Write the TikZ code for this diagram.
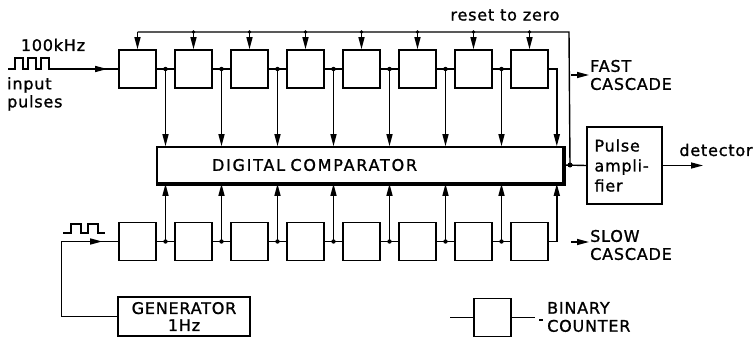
\documentclass[tikz,border=0pt]{standalone}
\usepackage{fontspec}
\setmainfont[LetterSpace=5,FakeBold=1.2]{DejaVu Sans}
\usetikzlibrary{arrows.meta,positioning,calc}

\begin{document}
\begin{tikzpicture}[x=1pt,y=-1pt,
    node distance=17.4pt,
    lbl/.style={inner sep=1pt,align=left,font=\fontsize{16}{18}\selectfont},
    counter/.style={draw,line width=1.6pt,minimum width=37pt,minimum height=38pt,inner sep=0pt},
    block/.style={draw,line width=1.6pt,inner sep=0pt,align=left,font=\fontsize{16}{20}\selectfont},
    wire/.style={line width=1.4pt},
    arrow/.style={wire,-{Triangle[length=12pt,width=6pt]}}
  ]
    \useasboundingbox (0,0) rectangle (753,337);
    % counters
    \node[counter] (f1) at (137.5,69) {};
    \node[counter] (s1) at (137.5,241.5) {};
    \foreach \i [count=\j from 2] in {1,...,7} {
      \node[counter,right=of f\i] (f\j) {};
      \node[counter,right=of s\i] (s\j) {};
    }
    \node[block,text width=406pt,minimum height=36pt] (comp) at (360,165) {\hspace*{55pt}\addfontfeature{LetterSpace=11}DIGITAL COMPARATOR};
    \draw[line width=3.5pt] (comp.south west) -- (comp.south east) -- (comp.north east);
    \node[block,text width=60pt,inner xsep=7.5pt,minimum height=77pt] (amp) at (624.5,165.5) {Pulse\\ampli-\\fier};
    \node[block,align=center,minimum width=132pt,minimum height=39pt,font=\fontsize{16}{17}\selectfont] (gen) at (184,316.5) {GENERATOR\\1Hz};
    \node[counter] (leg) at (492.5,317.5) {};
    % texts
    \node[lbl] (khz) at (53,45) {100kHz};
    \node[lbl,anchor=north west] (inlbl) at (6,76) {input\\pulses};
    \node[lbl] (reset) at (505,15) {reset to zero};
    \node[lbl,anchor=west] (fastlbl) at (589,75) {FAST\\CASCADE};
    \node[lbl,anchor=west] (slowlbl) at (589,245) {SLOW\\CASCADE};
    \node[lbl] (detlbl) at (716,150) {detector};
    \node[lbl,anchor=west] (leglbl) at (546,317) {BINARY\\COUNTER};
    \coordinate (fin) at (58,69);
    \coordinate (out) at (570,165);
    \coordinate (rtop) at (569,32);
    \coordinate (det) at (703,165.5);
    \coordinate (fastarr) at (571,75);
    \coordinate (slowarr) at (571,242);
    % pulse trains
    \draw[wire] (8,69) -- (15,69) |- (23,58) |- (28,69) |- (36,58) |- (41,69) |- (49,58) |- (fin);
    \draw[wire] (63,233) -- (71,233) |- (81,224) |- (88,233) |- (98,224) |- (105,233);
    % inputs
    \draw[wire] (fin) -- (f1.west);
    \draw[arrow] (fin) -- ($(f1.west)+(-11,0)$);
    \draw[wire] (gen.west) -- ++(-56,0) coordinate (gcorner) |- (s1.west);
    \draw[arrow] (gcorner |- s1.west) -- ($(s1.west)+(-16,0)$);
    % cascades into the comparator
    \foreach \i [count=\j from 2] in {1,...,7} {
      \draw[wire] (f\i) -- (f\j);
      \draw[wire] (s\i) -- (s\j);
      \path (f\i.east) -- (f\j.west) coordinate[midway] (fj\i);
      \path (s\i.east) -- (s\j.west) coordinate[midway] (sj\i);
      \fill (fj\i) circle (2.2pt);
      \fill (sj\i) circle (2.2pt);
      \draw[arrow] (fj\i) -- (fj\i |- comp.north);
      \draw[arrow] (sj\i) -- (sj\i |- comp.south);
    }
    \draw[arrow] (f8.east) -- ++(8,0) coordinate (fj8) -- (fj8 |- comp.north);
    \draw[arrow] (s8.east) -- ++(8,0) coordinate (sj8) -- (sj8 |- comp.south);
    % output and reset
    \draw[wire] (comp.east) -- (amp.west);
    \fill (out) circle (2.5pt);
    \draw[wire] (out) -- (rtop) -- (rtop -| f1);
    \foreach \i in {1,...,8}
      \draw[arrow] (rtop -| f\i) -- (f\i.north);
    \foreach \i in {2,...,8}
      \fill (rtop -| f\i) circle (1.8pt);
    \draw[arrow] (amp.east) -- (det);
    \draw[arrow] (fastarr) -- (fastlbl.west);
    \draw[arrow] (slowarr) -- (slowlbl.west |- slowarr);
    % legend
    \draw[wire] (leg.west) -- ++(-23,0);
    \draw[wire] (leg.east) -- ++(23,0);
    \draw[wire] (539,320) -- (543,320);
  \end{tikzpicture}
\end{document}
